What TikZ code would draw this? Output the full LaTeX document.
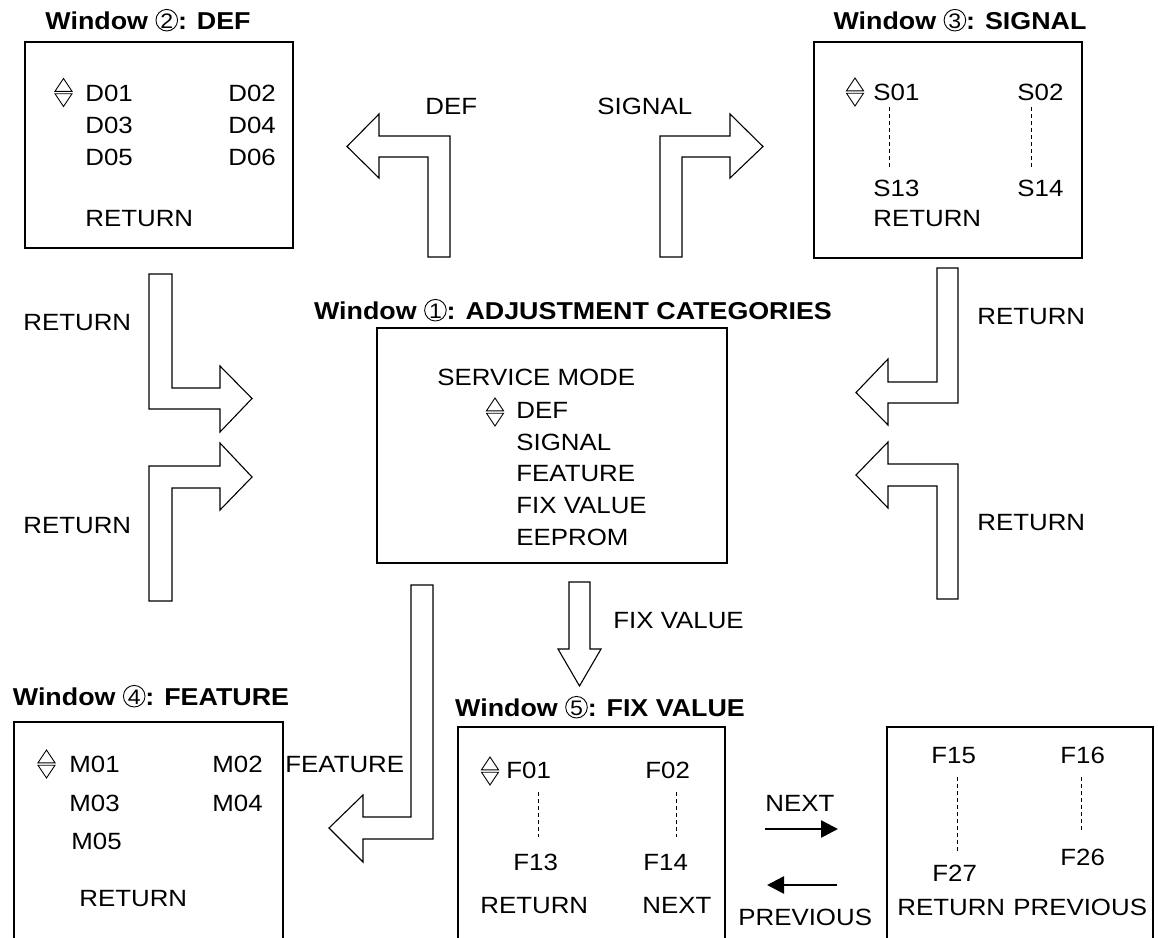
\documentclass[tikz,border=0pt]{standalone}
\usepackage{fontspec}
\setmainfont{Liberation Sans}[FakeStretch=1.1]
\usetikzlibrary{arrows.meta}
\newcommand{\circd}[1]{\tikz[baseline=0pt,x=1pt,y=1pt]{\draw[line width=0.45pt] (0,4.4) circle (5.4pt);
  \node[inner sep=0pt, anchor=base, font=\mdseries\fontsize{10.5}{10.5}\selectfont] at (0,0.1) {#1};}}
\begin{document}
\begin{tikzpicture}[x=0.5pt,y=-0.5pt,
  txt/.style={inner sep=0pt, anchor=base west, font=\fontsize{11.75}{14}\selectfont},
  ttl/.style={inner sep=0pt, anchor=base, font=\fontsize{12.2}{14}\selectfont\bfseries},
  win/.style={line width=0.6pt},
  blk/.style={line width=0.55pt, line join=miter},
  dots/.style={line width=0.4pt, dash pattern=on 2pt off 1.5pt},
  nav/.style={line width=1.3pt, -{Triangle[length=8.5pt,width=8.5pt]}},
  updn/.pic={\draw[line width=0.45pt] (-8.5,-1.2) -- (8.5,-1.2) -- (0,-14) -- cycle;
             \draw[line width=0.45pt] (-8.5,1.2) -- (8.5,1.2) -- (0,14) -- cycle;}]
\useasboundingbox (0,0) rectangle (1158,938);

% ---------- Window 2 : DEF
\node[ttl] (t2) at (148,29) {Window \circd{2}: DEF};
\draw[win] (25,42) rectangle (293,248);
\pic at (63.5,92.5) {updn};
\node[txt] (d01) at (85,101.5) {D01};
\node[txt] (d02) at (228,101.5) {D02};
\node[txt] (d03) at (85,133.5) {D03};
\node[txt] (d04) at (228,133.5) {D04};
\node[txt] (d05) at (85,165.5) {D05};
\node[txt] (d06) at (228,165.5) {D06};
\node[txt] (dret) at (85,226.5) {RETURN};

% ---------- Window 3 : SIGNAL
\node[ttl] (t3) at (960,29) {Window \circd{3}: SIGNAL};
\draw[win] (814,42) rectangle (1082,258);
\pic at (855,92) {updn};
\node[txt] (s01) at (873,100.5) {S01};
\node[txt] (s02) at (1017,100.5) {S02};
\node[txt] (s13) at (873,196.5) {S13};
\node[txt] (s14) at (1017,196.5) {S14};
\node[txt] (sret) at (873,226.5) {RETURN};
\draw[dots] (889,107) -- (889,168);
\draw[dots] (1031,107) -- (1031,168);

% ---------- Window 1 : ADJUSTMENT CATEGORIES
\node[ttl] (t1) at (573,319) {Window \circd{1}: ADJUSTMENT CATEGORIES};
\draw[win] (377,328) rectangle (727,563);
\node[txt] (svc) at (437,385.5) {SERVICE MODE};
\pic at (495,412) {updn};
\node[txt] (m1) at (516,418.5) {DEF};
\node[txt] (m2) at (516,450.5) {SIGNAL};
\node[txt] (m3) at (516,481.5) {FEATURE};
\node[txt] (m4) at (516,513.5) {FIX VALUE};
\node[txt] (m5) at (516,545.5) {EEPROM};

% ---------- block arrows
% DEF (up, then left)
\draw[blk] (428,257) -- (428,157) -- (379,157) -- (379,178) -- (347,146.5) -- (379,114) -- (379,136) -- (450,136) -- (450,257) -- cycle;
\node[txt] (ldef) at (425,114.5) {DEF};
% SIGNAL (up, then right)
\draw[blk] (660,257) -- (660,136) -- (730,136) -- (730,114) -- (763,146.5) -- (730,178) -- (730,157) -- (682,157) -- (682,257) -- cycle;
\node[txt] (lsig) at (597,114.5) {SIGNAL};
% left RETURN arrows
\draw[blk] (149,274) -- (149,409) -- (220,409) -- (220,432) -- (252,398.5) -- (220,366) -- (220,388) -- (172,388) -- (172,274) -- cycle;
\draw[blk] (149,601) -- (149,466) -- (220,466) -- (220,443) -- (252,477) -- (220,510) -- (220,488) -- (172,488) -- (172,601) -- cycle;
\node[txt] (lr1) at (23,330.5) {RETURN};
\node[txt] (lr2) at (23,533.5) {RETURN};
% right RETURN arrows
\draw[blk] (958,268) -- (958,403) -- (888,403) -- (888,425) -- (856,392.5) -- (888,359) -- (888,382) -- (937,382) -- (937,268) -- cycle;
\draw[blk] (958,599) -- (958,464) -- (888,464) -- (888,442) -- (856,475) -- (888,508) -- (888,486) -- (937,486) -- (937,599) -- cycle;
\node[txt] (rr1) at (977,324.5) {RETURN};
\node[txt] (rr2) at (977,530.5) {RETURN};
% FEATURE (down, then left)
\draw[blk] (433,585) -- (433,839) -- (363,839) -- (363,862) -- (329,828) -- (363,795) -- (363,817) -- (411,817) -- (411,585) -- cycle;
\node[txt] (lfeat) at (285,772.5) {FEATURE};
% FIX VALUE (down)
\draw[blk] (569,582) -- (590,582) -- (590,649) -- (601,649) -- (579.5,686) -- (558,649) -- (569,649) -- cycle;
\node[txt] (lfix) at (613,628.5) {FIX VALUE};

% ---------- Window 4 : FEATURE
\node[ttl] (t4) at (151,705) {Window \circd{4}: FEATURE};
\draw[win] (14,938) -- (14,722) -- (283,722) -- (283,938);
\pic at (46.5,764) {updn};
\node[txt] (f01) at (69,772.5) {M01};
\node[txt] (f02) at (212,772.5) {M02};
\node[txt] (f03) at (69,811.5) {M03};
\node[txt] (f04) at (212,811.5) {M04};
\node[txt] (f05) at (71,849.5) {M05};
\node[txt] (fret) at (79,906.5) {RETURN};

% ---------- Window 5 : FIX VALUE
\node[ttl] (t5) at (600,716) {Window \circd{5}: FIX VALUE};
\draw[win] (458,938) -- (458,727) -- (725,727) -- (725,938);
\pic at (490,771) {updn};
\node[txt] (x01) at (506,778.5) {F01};
\node[txt] (x02) at (645,778.5) {F02};
\draw[dots] (538,792) -- (538,837);
\draw[dots] (676,792) -- (676,837);
\node[txt] (x13) at (513,870.5) {F13};
\node[txt] (x14) at (643,870.5) {F14};
\node[txt] (xret) at (480,913.5) {RETURN};
\node[txt] (xnext) at (642,913.5) {NEXT};

% ---------- Window 5 (second page)
\draw[win] (887,938) -- (887,727) -- (1153,727) -- (1153,938);
\node[txt] (y15) at (931,763.5) {F15};
\node[txt] (y16) at (1060,763.5) {F16};
\draw[dots] (957,777) -- (957,853);
\draw[dots] (1081,777) -- (1081,830);
\node[txt] (y26) at (1060,865.5) {F26};
\node[txt] (y27) at (932,881.5) {F27};
\node[txt] (yret) at (897,915.5) {RETURN};
\node[txt] (yprev) at (1013,915.5) {PREVIOUS};

% ---------- NEXT / PREVIOUS
\node[txt] (lnext) at (765,811.5) {NEXT};
\coordinate (na) at (765,829);
\coordinate (nb) at (838,829);
\draw[nav] (na) -- (nb);
\coordinate (pa) at (837,885);
\coordinate (pb) at (767,885);
\draw[nav] (pa) -- (pb);
\node[txt] (lprev) at (738,925.5) {PREVIOUS};
\end{tikzpicture}
\end{document}
